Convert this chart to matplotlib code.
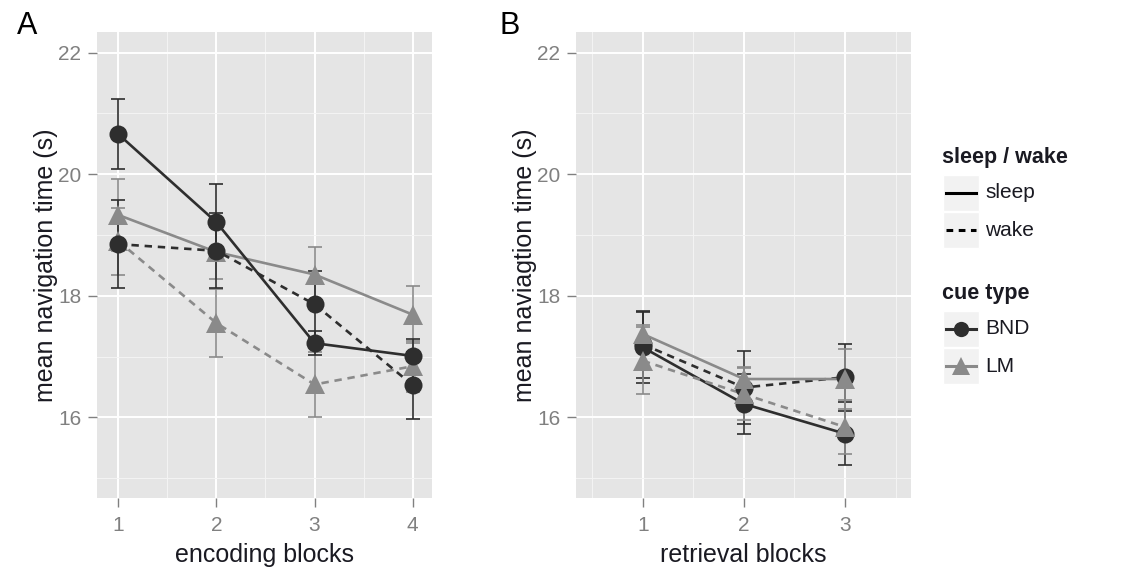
import matplotlib
matplotlib.use("Agg")
import matplotlib.pyplot as plt
from matplotlib.patches import Rectangle
from matplotlib.lines import Line2D

plt.rcParams['font.family'] = ['Liberation Sans', 'DejaVu Sans']

# ---- data ----
enc_blocks = [1, 2, 3, 4]
enc_bnd_sleep = [20.66, 19.21, 17.22, 17.01]
enc_bnd_sleep_se = [0.58, 0.63, 0.20, 0.28]
enc_bnd_wake = [18.85, 18.74, 17.86, 16.53]
enc_bnd_wake_se = [0.72, 0.62, 0.55, 0.55]
enc_lm_sleep = [19.33, 18.72, 18.35, 17.69]
enc_lm_sleep_se = [0.60, 0.45, 0.45, 0.47]
enc_lm_wake = [18.90, 17.55, 16.54, 16.84]
enc_lm_wake_se = [0.55, 0.56, 0.54, 0.42]

ret_blocks = [1, 2, 3]
ret_bnd_sleep = [17.15, 16.22, 15.73]
ret_bnd_sleep_se = [0.58, 0.50, 0.52]
ret_bnd_wake = [17.20, 16.49, 16.66]
ret_bnd_wake_se = [0.55, 0.60, 0.55]
ret_lm_sleep = [17.37, 16.63, 16.63]
ret_lm_sleep_se = [0.15, 0.20, 0.50]
ret_lm_wake = [16.93, 16.38, 15.84]
ret_lm_wake_se = [0.55, 0.43, 0.45]

y_ticks = [16, 18, 20, 22]
cue_types = ['BND', 'LM']
conditions = ['sleep', 'wake']

DARK = '#2e2e2e'
GRAY = '#8a8a8a'
TICK_GRAY = '#808080'
TEXT = '#1a1a22'

W, H = 1126, 579
fig = plt.figure(figsize=(W / 100, H / 100), dpi=100)
fig.patch.set_facecolor('white')


def px_axes(l, t, r, b):
    return fig.add_axes([l / W, 1 - b / H, (r - l) / W, (b - t) / H])


def style(ax, xticks, xminor, xlim, xlabel, ylabel):
    ax.set_facecolor('#e5e5e5')
    for s in ax.spines.values():
        s.set_visible(False)
    ax.set_xlim(*xlim)
    ax.set_ylim(14.667, 22.346)
    ax.set_xticks(xticks)
    ax.set_xticks(xminor, minor=True)
    ax.set_yticks(y_ticks)
    ax.set_yticks([15, 17, 19, 21], minor=True)
    ax.grid(which='major', color='white', lw=1.4)
    ax.grid(which='minor', color='#f4f4f4', lw=0.7)
    ax.set_axisbelow(True)
    ax.tick_params(which='major', length=6.5, width=1, color=TICK_GRAY,
                   labelcolor=TICK_GRAY, labelsize=15)
    ax.tick_params(axis='x', which='major', pad=6.5)
    ax.tick_params(axis='y', which='major', pad=4.5)
    ax.tick_params(which='minor', length=0)
    ax.set_xlabel(xlabel, fontsize=18, color=TEXT)
    ax.set_ylabel(ylabel, fontsize=18, color=TEXT)
    ax.xaxis.set_label_coords(0.5, -0.096)
    ax.yaxis.set_label_coords(-0.116, 0.5)


def series(ax, x, y, se, color, ls, marker, ms):
    ax.errorbar(x, y, yerr=se, fmt='none', ecolor=color, elinewidth=1.2,
                capsize=5, capthick=1.2, zorder=3)
    if ls == 'dashed':
        ax.plot(x, y, color=color, lw=1.9, dashes=(2.8, 2.2), zorder=4)
    else:
        ax.plot(x, y, color=color, lw=1.9, zorder=4)
    ax.plot(x, y, ls='none', marker=marker, ms=ms, color=color,
            markeredgewidth=0, zorder=5)


# ---- panel A ----
axA = px_axes(96.7, 31.7, 431.7, 498.3)
style(axA, enc_blocks, [1.5, 2.5, 3.5], (0.78, 4.194),
      'encoding blocks', 'mean navigation time (s)')
series(axA, enc_blocks, enc_lm_wake, enc_lm_wake_se, GRAY, 'dashed', '^', 15)
series(axA, enc_blocks, enc_lm_sleep, enc_lm_sleep_se, GRAY, 'solid', '^', 15)
series(axA, enc_blocks, enc_bnd_wake, enc_bnd_wake_se, DARK, 'dashed', 'o', 13)
series(axA, enc_blocks, enc_bnd_sleep, enc_bnd_sleep_se, DARK, 'solid', 'o', 13)

# ---- panel B ----
axB = px_axes(575.7, 31.7, 910.7, 498.3)
style(axB, ret_blocks, [0.5, 1.5, 2.5, 3.5], (0.335, 3.65),
      'retrieval blocks', 'mean naviagtion time (s)')
series(axB, ret_blocks, ret_bnd_wake, ret_bnd_wake_se, DARK, 'dashed', 'o', 13)
series(axB, ret_blocks, ret_bnd_sleep, ret_bnd_sleep_se, DARK, 'solid', 'o', 13)
series(axB, ret_blocks, ret_lm_wake, ret_lm_wake_se, GRAY, 'dashed', '^', 15)
series(axB, ret_blocks, ret_lm_sleep, ret_lm_sleep_se, GRAY, 'solid', '^', 15)

# panel letters
fig.text(17 / W, 1 - 26 / H, 'A', fontsize=22, va='center', ha='left')
fig.text(499 / W, 1 - 26 / H, 'B', fontsize=22, va='center', ha='left')

# ---- legend (drawn in pixel coordinates) ----
lg = fig.add_axes([0, 0, 1, 1], facecolor='none')
lg.set_xlim(0, W)
lg.set_ylim(H, 0)
lg.axis('off')

kx0, kw, kh = 943, 36, 36
lg.text(942, 158, 'sleep / wake', fontsize=15.5, fontweight='bold',
        va='center', ha='left', color=TEXT)
for i, cond in enumerate(conditions):
    top = 175 + i * 37
    lg.add_patch(Rectangle((kx0, top), kw, kh, facecolor='#f2f2f2',
                           edgecolor='white', lw=1))
    cy = top + kh / 2
    if cond == 'wake':
        lg.add_line(Line2D([kx0 + 3, kx0 + kw - 3], [cy, cy], color='black',
                           lw=2.2, dashes=(2.2, 1.8)))
    else:
        lg.add_line(Line2D([kx0 + 3, kx0 + kw - 3], [cy, cy], color='black', lw=2.2))
    lg.text(985, cy, cond, fontsize=15, va='center', ha='left', color=TEXT)

lg.text(942, 294, 'cue type', fontsize=15.5, fontweight='bold',
        va='center', ha='left', color=TEXT)
cue_style = {'BND': (DARK, 'o', 11), 'LM': (GRAY, '^', 13)}
for i, cue in enumerate(cue_types):
    top = 311 + i * 37
    lg.add_patch(Rectangle((kx0, top), kw, kh, facecolor='#f2f2f2',
                           edgecolor='white', lw=1))
    cy = top + kh / 2
    col, mk, ms = cue_style[cue]
    lg.add_line(Line2D([kx0 + 3, kx0 + kw - 3], [cy, cy], color=col, lw=2.2))
    lg.add_line(Line2D([kx0 + kw / 2], [cy], color=col, marker=mk, ms=ms,
                       markeredgewidth=0, ls='none'))
    lg.text(985, cy, cue, fontsize=15, va='center', ha='left', color=TEXT)

fig.savefig('out.png', dpi=100)
